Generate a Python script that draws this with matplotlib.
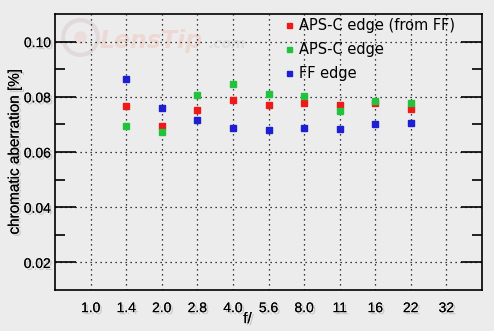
import matplotlib.pyplot as plt
import matplotlib.patheffects as pe
import numpy as np

apertures = ['1.0', '1.4', '2.0', '2.8', '4.0', '5.6', '8.0', '11', '16', '22', '32']
# values for f/1.4 ... f/22 (no data at 1.0 and 32)
ff_apsc = [0.0767, 0.0695, 0.0753, 0.0789, 0.0771, 0.0778, 0.0771, 0.0778, 0.0756]
apsc = [0.0695, 0.0673, 0.0807, 0.0847, 0.0811, 0.0804, 0.0749, 0.0785, 0.0778]
ff = [0.0865, 0.0760, 0.0716, 0.0687, 0.0680, 0.0687, 0.0684, 0.0702, 0.0705]

bg = '#ececec'
shadow = [pe.withSimplePatchShadow(offset=(1.5, -1.5), shadow_rgbFace='#b0b0b0', alpha=0.6), pe.Normal()]

fig = plt.figure(figsize=(4.94, 3.31), dpi=100, facecolor=bg)
ax = fig.add_axes([55/494, 1-290/331, 427/494, 276/331], facecolor=bg)

x = np.arange(1, len(apertures) + 1)
xs = x[1:10]

# faint watermark
ax.plot([0.059], [0.915], 'o', ms=25, mfc='none', mec='#e2dada', mew=3,
        transform=ax.transAxes, zorder=0)
ax.plot([0.059], [0.915], 'o', ms=9, mfc='#ecdcdc', mec='none',
        transform=ax.transAxes, zorder=0)
ax.text(0.105, 0.878, 'LensTip', transform=ax.transAxes, fontsize=17, style='italic',
        fontweight='bold', color='#eed8d4', family='DejaVu Sans', zorder=0)
ax.text(0.36, 0.878, '.com', transform=ax.transAxes, fontsize=10, style='italic',
        fontweight='bold', color='#dfdfdf', family='DejaVu Sans', zorder=0)

ax.plot(xs, ff_apsc, 's', color='#ee1a1a', ms=4.5, label='APS-C edge (from FF)', zorder=3)
ax.plot(xs, apsc, 's', color='#22c23c', ms=4.5, label='APS-C edge', zorder=3)
ax.plot(xs, ff, 's', color='#1e1ed2', ms=4.5, label='FF edge', zorder=3)

ax.set_xlim(0, 12)
ax.set_ylim(0.01, 0.11)
ax.set_xticks(x)
ax.set_xticklabels(apertures)
ax.set_yticks([0.02, 0.04, 0.06, 0.08, 0.10])
ax.set_yticklabels(['0.02', '0.04', '0.06', '0.08', '0.10'])
ax.set_yticks([0.03, 0.05, 0.07, 0.09], minor=True)

ax.grid(True, which='major', color='black', linestyle=(0, (1, 3)), linewidth=0.9)
ax.tick_params(axis='x', length=0, pad=8, labelsize=10)
ax.tick_params(axis='y', which='major', direction='in', length=15, width=1.2,
               right=True, labelsize=10, pad=3)
ax.tick_params(axis='y', which='minor', direction='in', length=7, width=1.2, right=True)
for lab in ax.get_xticklabels() + ax.get_yticklabels():
    lab.set_family('Liberation Sans')
    lab.set_path_effects(shadow)
for s in ax.spines.values():
    s.set_linewidth(1.2)

ax.set_ylabel('chromatic aberration [%]', fontsize=11, family='Liberation Sans')
ax.yaxis.set_label_coords(-0.078, 0.5)
ax.set_xlabel('f/', fontsize=11, family='Liberation Sans')
ax.xaxis.set_label_coords(0.451, -0.08)
ax.yaxis.label.set_path_effects(shadow)
ax.xaxis.label.set_path_effects(shadow)

leg = ax.legend(loc='upper right', frameon=False, fontsize=10.5, markerscale=0.8,
                handlelength=0.4, handletextpad=0.5, labelspacing=0.6,
                borderaxespad=0.0, bbox_to_anchor=(0.95, 1.005))

fig.savefig('out.png', dpi=100, facecolor=bg)
